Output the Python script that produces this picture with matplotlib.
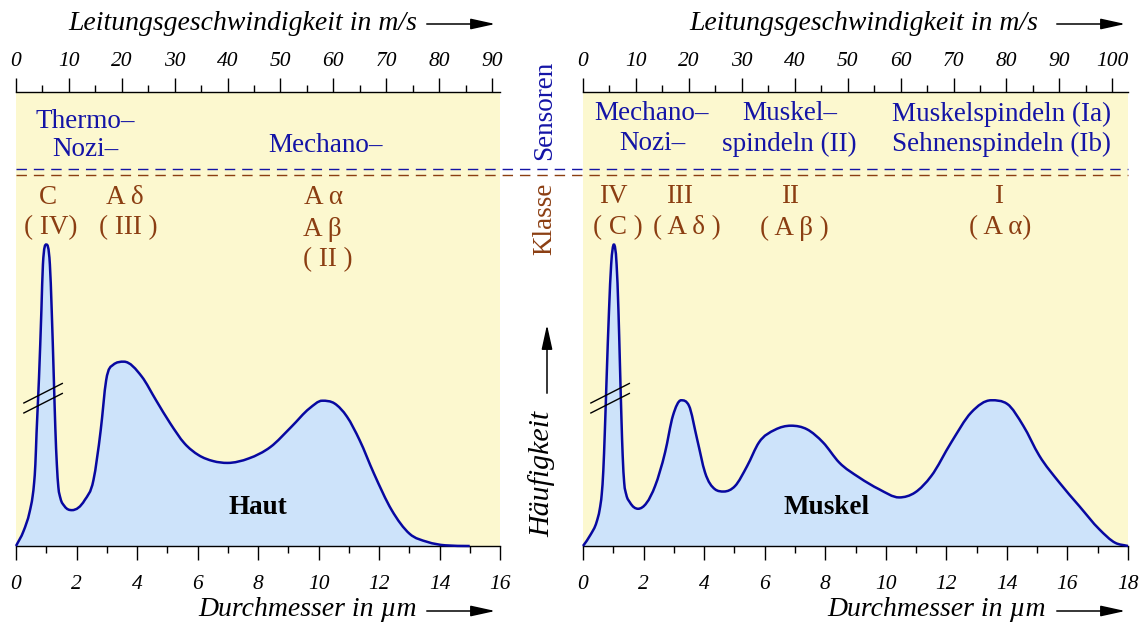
"""Fibre diameter distribution in skin and muscle nerves (Haut / Muskel)."""

import matplotlib

matplotlib.use("Agg")
import matplotlib.pyplot as plt
import numpy as np
from matplotlib.lines import Line2D
from matplotlib.patches import FancyArrowPatch, PathPatch
from matplotlib.path import Path

# ---- data (diameter in um, relative frequency 0..100) ----
haut_diam = [0.0, 0.25, 0.45, 0.55, 0.60, 0.64, 0.68, 0.76, 0.84, 0.89, 1.00, 1.12, 1.18,
             1.25, 1.30, 1.35, 1.40, 1.47, 1.60, 1.85, 2.27, 2.56, 2.80, 2.98, 3.21,
             3.57, 4.16, 4.63, 5.10, 5.57, 6.04, 6.52, 6.99, 7.70, 8.41, 9.11, 9.70,
             10.12, 10.53, 10.94, 11.36, 11.83, 12.42, 13.01, 13.60, 14.19, 15.0]
haut_freq = [0.0, 3.3, 7.5, 11.0, 14.0, 18.0, 25.0, 37.0, 52.0, 62.0, 66.4, 62.0, 52.0,
             37.0, 26.0, 18.0, 13.0, 10.5, 8.8, 7.9, 10.1, 14.5, 25.5, 36.5, 39.9,
             40.6, 37.3, 32.1, 27.0, 22.6, 20.0, 18.7, 18.3, 19.3, 21.8, 26.3, 30.3,
             32.0, 31.4, 28.5, 23.3, 16.0, 7.9, 2.7, 0.9, 0.15, 0.0]

muskel_diam = [0.0, 0.25, 0.45, 0.55, 0.62, 0.67, 0.72, 0.78, 0.86, 0.93, 1.02, 1.11,
               1.17, 1.22, 1.27, 1.31, 1.36, 1.43, 1.55, 1.82, 2.38, 2.71, 2.97, 3.24,
               3.50, 3.77, 4.03, 4.36, 4.65, 5.02, 5.42, 5.81, 6.34, 6.87, 7.40, 7.93,
               8.46, 9.12, 9.78, 10.44, 10.97, 11.50, 12.16, 12.82, 13.48, 14.01,
               14.54, 15.07, 15.73, 16.39, 17.05, 17.58, 18.0]
muskel_freq = [0.0, 2.5, 5.3, 8.0, 11.5, 16.5, 25.0, 37.0, 52.0, 62.0, 66.4, 62.0,
               52.0, 40.0, 28.0, 20.0, 14.0, 11.3, 9.6, 8.2, 13.2, 20.6, 28.7, 32.1,
               30.9, 23.5, 16.2, 12.5, 12.0, 13.2, 17.6, 22.8, 25.6, 26.5, 25.7, 22.8,
               18.4, 15.1, 12.5, 10.7, 11.8, 15.4, 22.8, 29.4, 32.1, 31.3,
               26.5, 19.9, 14.0, 8.8, 3.7, 0.7, 0.0]

haut_xmax = 16
muskel_xmax = 18
speed_per_um = 5.72  # m/s per um diameter (top axis)

haut_speed_ticks = list(range(0, 91, 10))
muskel_speed_ticks = list(range(0, 101, 10))

haut_sensor = ["Thermo–", "Nozi–", "Mechano–"]
haut_class = ["C", "( IV)", "A δ", "( III )", "A α", "A β", "( II )"]
muskel_sensor = ["Mechano–", "Nozi–", "Muskel–", "spindeln (II)",
                 "Muskelspindeln (Ia)", "Sehnenspindeln (Ib)"]
muskel_class = ["IV", "( C )", "III", "( A δ )", "II", "( A β )", "I", "( A α)"]

# ---- style ----
W, H = 1146, 625
SERIF = ["Liberation Serif", "DejaVu Serif"]
YELLOW = "#FCF8CF"
FILL = "#CDE3FA"
LINE = "#0808A0"
BLUE = "#1414A6"
BROWN = "#8B3E12"

plt.rcParams["font.family"] = SERIF


def fpos(px, py):
    """pixel position in the picture -> figure fraction"""
    return px / W, 1 - py / H


def smooth_path(x, y):
    """Cubic bezier path through the points (3-point tangents, monotone limiter)."""
    x = np.asarray(x, float)
    y = np.asarray(y, float)
    h = np.diff(x)
    delta = np.diff(y) / h
    d = np.zeros_like(x)
    d[0], d[-1] = delta[0], delta[-1]
    for k in range(1, len(x) - 1):
        a, b = delta[k - 1], delta[k]
        if a * b > 0:
            t = (h[k] * a + h[k - 1] * b) / (h[k - 1] + h[k])
            lim = 3 * min(abs(a), abs(b))
            d[k] = np.sign(t) * min(abs(t), lim)
    verts = [(x[0], y[0])]
    codes = [Path.MOVETO]
    for k in range(len(x) - 1):
        verts += [(x[k] + h[k] / 3, y[k] + d[k] * h[k] / 3),
                  (x[k + 1] - h[k] / 3, y[k + 1] - d[k + 1] * h[k] / 3),
                  (x[k + 1], y[k + 1])]
        codes += [Path.CURVE4] * 3
    return verts, codes


def draw_panel(ax, diam, freq, xmax, speed_ticks):
    ax.set_facecolor(YELLOW)
    ax.set_xlim(0, xmax)
    ax.set_ylim(0, 100)

    verts, codes = smooth_path(diam, freq)
    fill = Path(verts + [(diam[0], 0)], codes + [Path.CLOSEPOLY])
    ax.add_patch(PathPatch(fill, facecolor=FILL, edgecolor="none", zorder=2))
    ax.add_patch(PathPatch(Path(verts, codes), facecolor="none", edgecolor=LINE,
                           lw=1.8, zorder=3, clip_on=False))

    # axis break on the C peak
    for y0 in (31.5, 29.3):
        ax.plot([0.26, 1.53], [y0, y0 + 4.3], color="black", lw=1.0, zorder=4)

    for s in ("top", "left", "right"):
        ax.spines[s].set_visible(False)
    ax.spines["bottom"].set_linewidth(1.0)
    ax.set_yticks([])
    ax.set_xticks(range(0, xmax + 1, 2))
    ax.set_xticks(range(0, xmax + 1), minor=True)
    ax.set_xticklabels([str(t) for t in range(0, xmax + 1, 2)], fontstyle="italic",
                       fontsize=15.5)
    ax.tick_params(axis="x", which="major", length=10, width=1.0, pad=11)
    ax.tick_params(axis="x", which="minor", length=5, width=1.0)

    top = ax.secondary_xaxis("top", functions=(lambda v: v * speed_per_um,
                                                lambda v: v / speed_per_um))
    top.spines["top"].set_linewidth(1.0)
    top.set_xticks(speed_ticks)
    top.set_xticks([t + 5 for t in speed_ticks], minor=True)
    top.set_xticklabels([str(t) for t in speed_ticks], fontstyle="italic", fontsize=15.5)
    top.tick_params(axis="x", which="major", length=10, width=1.0, pad=5)
    top.tick_params(axis="x", which="minor", length=5, width=1.0)


def ftext(fig, px, py, s, color="black", size=19.5, **kw):
    fig.text(*fpos(px, py), s, color=color, fontsize=size, ha="center", va="center", **kw)


def farrow(fig, x0, y0, x1, y1):
    arr = FancyArrowPatch(fpos(x0, y0), fpos(x1, y1), transform=fig.transFigure,
                          arrowstyle="-|>,head_length=1.5,head_width=0.33",
                          mutation_scale=10, lw=1.1, color="black")
    fig.add_artist(arr)


fig = plt.figure(figsize=(W / 100, H / 100), dpi=100)
ax_h = fig.add_axes([16 / W, (H - 546) / H, 484 / W, 454 / H])
ax_m = fig.add_axes([583 / W, (H - 546) / H, 545 / W, 454 / H])

draw_panel(ax_h, haut_diam, haut_freq, haut_xmax, haut_speed_ticks)
draw_panel(ax_m, muskel_diam, muskel_freq, muskel_xmax, muskel_speed_ticks)

# dashed separators between sensor and class rows (span both panels)
for py, col in ((169, BLUE), (175, BROWN)):
    fig.add_artist(Line2D([16 / W, 1128 / W], [1 - py / H] * 2, color=col, lw=1.0,
                          dashes=(7.5, 5), transform=fig.transFigure))

# axis titles with arrows
ftext(fig, 243, 24, "Leitungsgeschwindigkeit in m/s", size=20, fontstyle="italic")
farrow(fig, 424, 24, 498, 24)
ftext(fig, 864, 24, "Leitungsgeschwindigkeit in m/s", size=20, fontstyle="italic")
farrow(fig, 1054, 24, 1128, 24)
ftext(fig, 308, 610, "Durchmesser in µm", size=20, fontstyle="italic")
farrow(fig, 424, 611, 498, 611)
ftext(fig, 937, 610, "Durchmesser in µm", size=20, fontstyle="italic")
farrow(fig, 1054, 611, 1128, 611)

ftext(fig, 542, 474, "Häufigkeit", size=21.5, fontstyle="italic", rotation=90)
farrow(fig, 547, 396, 547, 322)
ftext(fig, 545, 110, "Sensoren", color=BLUE, rotation=90)
ftext(fig, 545, 219, "Klasse", color=BROWN, rotation=90)

# sensor labels (blue)
for (px, py), s in zip([(85, 122), (85, 150), (326, 145)], haut_sensor):
    ftext(fig, px, py, s, color=BLUE)
for (px, py), s in zip([(652, 114), (652, 144), (790, 114), (789, 144),
                        (1002, 114), (1002, 144)], muskel_sensor):
    ftext(fig, px, py, s, color=BLUE)

# fibre classes (brown)
for (px, py), s in zip([(48, 198), (51, 228), (125, 198), (128, 228),
                        (324, 198), (322, 229), (328, 260)], haut_class):
    ftext(fig, px, py, s, color=BROWN)
for (px, py), s in zip([(613, 197), (618, 228), (680, 197), (687, 228),
                        (790, 197), (794, 228), (999, 197), (1000, 228)], muskel_class):
    ftext(fig, px, py, s, color=BROWN)

ftext(fig, 258, 507, "Haut", fontweight="bold")
ftext(fig, 826, 507, "Muskel", fontweight="bold")

fig.savefig("out.png", dpi=100)
